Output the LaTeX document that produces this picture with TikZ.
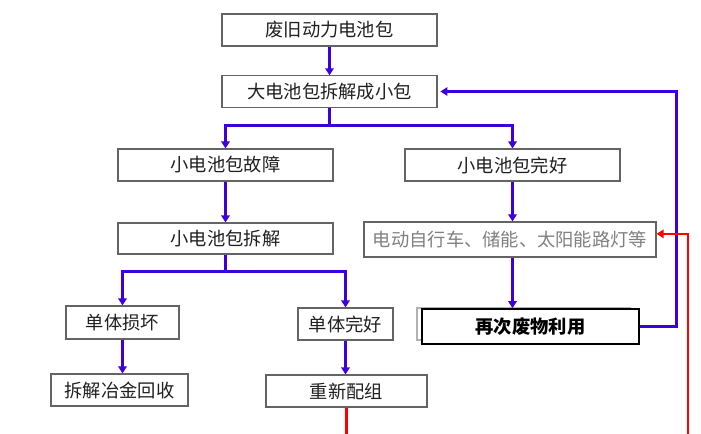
\documentclass[tikz,border=0pt]{standalone}
\usepackage{fontspec}
\newfontfamily\cjk{Noto Sans CJK SC}
\usetikzlibrary{arrows.meta}
\definecolor{flowblue}{RGB}{60,0,220}
\definecolor{boxgray}{RGB}{100,100,100}
\definecolor{textgray}{RGB}{32,32,32}
\begin{document}
\begin{tikzpicture}[x=0.025cm,y=-0.025cm,
    box/.style={draw=boxgray,line width=0.8pt,fill=white,inner sep=0pt,text=textgray,
        font=\cjk\fontsize{13}{15}\selectfont},
    flow/.style={flowblue,line width=2.1pt,-{Triangle[length=5pt,width=6pt]}},
    back/.style={red,line width=1.5pt,-{Triangle[length=5pt,width=6pt]}}]
            \useasboundingbox (0,0) rectangle (701,433);
            \clip (0,0) rectangle (701,433);

            \node[box,minimum width=5.375cm,minimum height=0.8cm] (old) at (329.5,30) {废旧动力电池包};
            \node[box,minimum width=5.375cm,minimum height=0.78cm] (split) at (329.5,91.5) {大电池包拆解成小包};

            \node[box,minimum width=5.375cm,minimum height=0.8cm] (faulty) at (225.5,165) {小电池包故障};
            \node[box,minimum width=5.375cm,minimum height=0.8cm] (good) at (512.5,165) {小电池包完好};

            \node[box,minimum width=5.375cm,minimum height=0.775cm] (disasm) at (225.5,238.5) {小电池包拆解};
            \node[box,minimum width=7.3cm,minimum height=0.875cm,text=gray] (ebike) at (510,239.5) {电动自行车、储能、太阳能路灯等};

            \node[box,minimum width=2.825cm,minimum height=0.825cm] (cellbad) at (122.5,322.5) {单体损坏};
            \node[box,minimum width=2.375cm,minimum height=0.8cm] (cellok) at (345.5,324) {单体完好};
            \node[box,draw=gray!60,minimum width=5.325cm,minimum height=0.8cm] (ghost) at (523.5,324) {};
            \node[box,draw=black,line width=1.2pt,text=black,minimum width=5.425cm,minimum height=0.875cm,
                font=\cjk\bfseries\fontsize{13}{15}\selectfont] (reuse) at (530.5,326.5) {再次废物利用};

            \node[box,minimum width=3.425cm,minimum height=0.8cm] (smelt) at (119.5,390) {拆解冶金回收};
            \node[box,minimum width=4.025cm,minimum height=0.8cm] (regroup) at (346.5,391) {重新配组};

            \coordinate (loopend) at (688,470);

            \draw[flow] (old) -- (split);
            \draw[flow] (split.south) -- ++(0,18) -| (faulty.north);
            \draw[flow] (split.south) -- ++(0,18) -| (good.north);
            \draw[flow] (faulty) -- (disasm);
            \draw[flow] (disasm.south) -- ++(0,17) -| (cellbad.north);
            \draw[flow] (disasm.south) -- ++(0,17) -| (cellok.north);
            \draw[flow] (cellbad.south) -- (cellbad.south |- smelt.north);
            \draw[flow] (cellok.south) -- (cellok.south |- regroup.north);
            \draw[flow] (good.south) -- (good.south |- ebike.north);
            \draw[flow] (ebike.south -| good.south) -- (good.south |- reuse.north);
            \draw[flow] (reuse.east) -- ++(37,0) |- ([xshift=2pt]split.east);
            \draw[back] (regroup.south) |- (loopend) |- ([yshift=4pt]ebike.east);
        \end{tikzpicture}
\end{document}
